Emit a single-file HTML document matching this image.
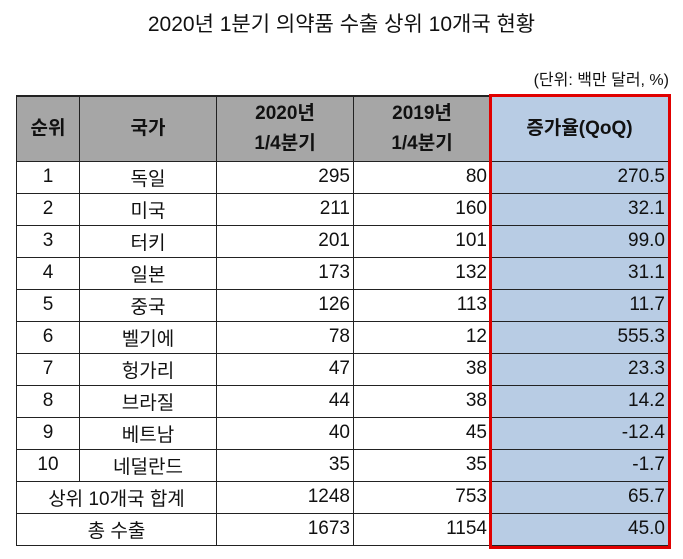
<!DOCTYPE html>
<html><head><meta charset="utf-8"><style>
body{margin:0;width:683px;height:559px;background:#fff;font-family:"Liberation Sans","Noto Sans CJK KR",sans-serif;position:relative;overflow:hidden}
.t{position:absolute;top:8px;left:0;width:683px;text-align:center;font-size:21px;color:#111}
.u{position:absolute;top:66px;right:14px;font-size:16px;color:#111}
table{position:absolute;left:16px;top:95px;border-collapse:collapse;font-size:19px;color:#111}
td{border:1px solid #222;height:32px;padding:0 3px;box-sizing:border-box}
tr.h td{background:#a6a6a6;font-weight:bold;height:65px;text-align:center;line-height:30px}
tr.h td.q{background:#b8cce4}
td.c{text-align:center}td.r{text-align:right}
td.q{background:#b8cce4;text-align:right}
tr:first-child td{border-top:2px solid #222}
#red{position:absolute;left:489px;top:94px;width:176px;height:449px;border:3px solid #e00000}
</style></head><body>
<div class="t">2020년 1분기 의약품 수출 상위 10개국 현황</div>
<div class="u">(단위: 백만 달러, %)</div>
<table>
<colgroup><col style="width:63px"><col style="width:137px"><col style="width:137px"><col style="width:137px"><col style="width:178px"></colgroup>
<tr class="h"><td>순위</td><td>국가</td><td>2020년<br>1/4분기</td><td>2019년<br>1/4분기</td><td class="q">증가율(QoQ)</td></tr>
<tr><td class="c">1</td><td class="c">독일</td><td class="r">295</td><td class="r">80</td><td class="q">270.5</td></tr>
<tr><td class="c">2</td><td class="c">미국</td><td class="r">211</td><td class="r">160</td><td class="q">32.1</td></tr>
<tr><td class="c">3</td><td class="c">터키</td><td class="r">201</td><td class="r">101</td><td class="q">99.0</td></tr>
<tr><td class="c">4</td><td class="c">일본</td><td class="r">173</td><td class="r">132</td><td class="q">31.1</td></tr>
<tr><td class="c">5</td><td class="c">중국</td><td class="r">126</td><td class="r">113</td><td class="q">11.7</td></tr>
<tr><td class="c">6</td><td class="c">벨기에</td><td class="r">78</td><td class="r">12</td><td class="q">555.3</td></tr>
<tr><td class="c">7</td><td class="c">헝가리</td><td class="r">47</td><td class="r">38</td><td class="q">23.3</td></tr>
<tr><td class="c">8</td><td class="c">브라질</td><td class="r">44</td><td class="r">38</td><td class="q">14.2</td></tr>
<tr><td class="c">9</td><td class="c">베트남</td><td class="r">40</td><td class="r">45</td><td class="q">-12.4</td></tr>
<tr><td class="c">10</td><td class="c">네덜란드</td><td class="r">35</td><td class="r">35</td><td class="q">-1.7</td></tr>
<tr><td class="c" colspan="2">상위 10개국 합계</td><td class="r">1248</td><td class="r">753</td><td class="q">65.7</td></tr>
<tr><td class="c" colspan="2">총 수출</td><td class="r">1673</td><td class="r">1154</td><td class="q">45.0</td></tr>
</table>
<div id="red"></div>
</body></html>
